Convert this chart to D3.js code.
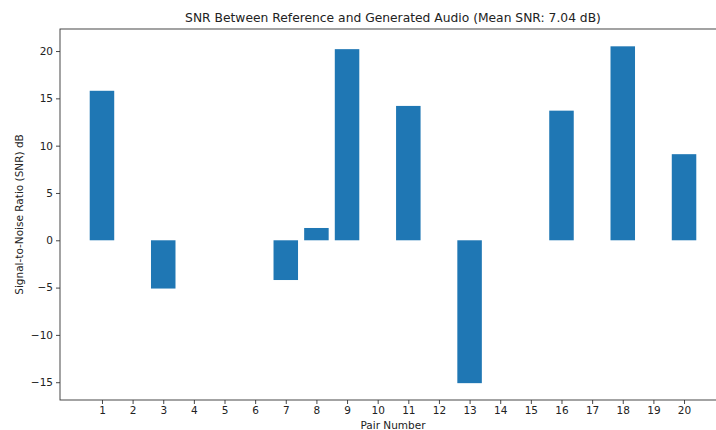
<!DOCTYPE html>
<html>
<head>
<meta charset="utf-8">
<script src="https://cdn.jsdelivr.net/npm/d3@7"></script>
<style>
  html, body { margin: 0; padding: 0; background: #fff; }
  svg { display: block; font-family: "DejaVu Sans", sans-serif; }
</style>
</head>
<body>
<svg id="chart" width="716" height="430"></svg>
<script>
// Pairs that have an SNR measurement, and their values in dB
const pairs = [1, 3, 7, 8, 9, 11, 13, 16, 18, 20];
const snrValues = [15.8, -5.1, -4.2, 1.3, 20.2, 14.2, -15.1, 13.7, 20.5, 9.1];
const xTicks = d3.range(1, 21);
const yTicks = [-15, -10, -5, 0, 5, 10, 15, 20];

const titleText = "SNR Between Reference and Generated Audio (Mean SNR: 7.04 dB)";
const xLabel = "Pair Number";
const yLabel = "Signal-to-Noise Ratio (SNR) dB";

const svg = d3.select("#chart");
const margin = { top: 29, right: -10, bottom: 30, left: 60 };
const W = 716, H = 430;
const x0 = margin.left, x1 = W - margin.right;
const y0 = margin.top, y1 = H - margin.bottom;

const x = d3.scaleLinear().domain([-0.37, 21.37]).range([x0, x1]);
const y = d3.scaleLinear().domain([-16.88, 22.33]).range([y1, y0]);
const barW = x(0.8) - x(0);

// bars
svg.append("g")
  .selectAll("rect")
  .data(pairs.map((p, i) => ({ p, v: snrValues[i] })))
  .join("rect")
  .attr("x", d => x(d.p) - barW / 2)
  .attr("width", barW)
  .attr("y", d => y(Math.max(0, d.v)))
  .attr("height", d => Math.abs(y(d.v) - y(0)))
  .attr("fill", "#1f77b4");

// axes
const xAxis = d3.axisBottom(x).tickValues(xTicks).tickSize(4).tickPadding(3).tickFormat(d3.format("d"));
const yAxis = d3.axisLeft(y).tickValues(yTicks).tickSize(4).tickPadding(3).tickFormat(d => d < 0 ? "\u2212" + Math.abs(d) : d);

const gx = svg.append("g").attr("transform", `translate(0,${y1})`).call(xAxis);
const gy = svg.append("g").attr("transform", `translate(${x0},0)`).call(yAxis);
[gx, gy].forEach(g => {
  g.select(".domain").remove();
  g.selectAll("line").attr("stroke", "#333").attr("stroke-width", 0.9);
  g.selectAll("text").attr("fill", "#222").attr("font-size", 10.5).attr("font-family", "DejaVu Sans, sans-serif");
});

// spines
svg.append("rect")
  .attr("x", x0).attr("y", y0)
  .attr("width", x1 - x0).attr("height", y1 - y0)
  .attr("fill", "none").attr("stroke", "#333").attr("stroke-width", 0.9);

// labels
svg.append("text")
  .attr("x", (x0 + x1) / 2).attr("y", 22)
  .attr("text-anchor", "middle").attr("font-size", 12.3).attr("fill", "#222")
  .text(titleText);

svg.append("text")
  .attr("x", (x0 + x1) / 2).attr("y", 429)
  .attr("text-anchor", "middle").attr("font-size", 10.5).attr("fill", "#222")
  .text(xLabel);

svg.append("text")
  .attr("transform", `translate(23,${(y0 + y1) / 2}) rotate(-90)`)
  .attr("text-anchor", "middle").attr("font-size", 10.5).attr("fill", "#222")
  .text(yLabel);
</script>
</body>
</html>
